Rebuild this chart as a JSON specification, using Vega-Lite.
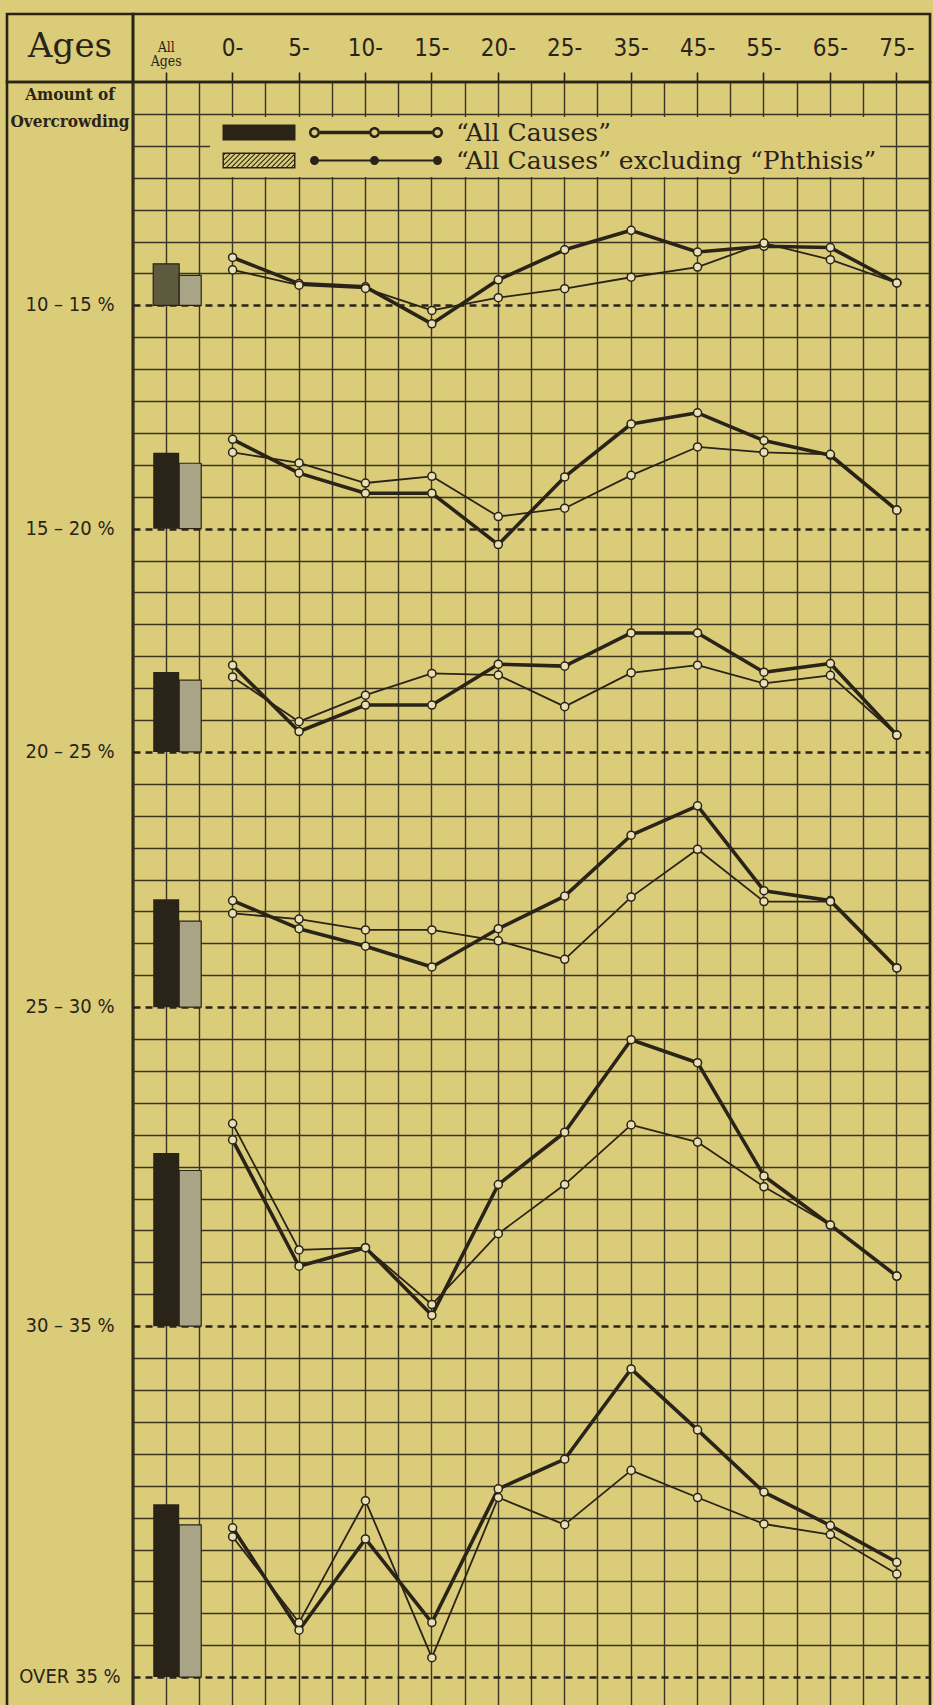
{
  "$schema": "https://vega.github.io/schema/vega-lite/v6.json",
  "background": "#dbcc7a",
  "padding": {"left": 5, "top": 12, "right": 5, "bottom": 0},
  "config": {
    "view": {"stroke": "#2a2418", "strokeWidth": 2.6},
    "concat": {"spacing": 0},
    "axis": {"gridColor": "#3b3422", "gridOpacity": 1, "gridWidth": 1.4}
  },
  "datasets": {
    "mortality": [
      {"band": "10 – 15 %", "age": "All Ages", "series": "“All Causes”", "value": 1.3},
      {"band": "10 – 15 %", "age": "0-", "series": "“All Causes”", "value": 1.5},
      {"band": "10 – 15 %", "age": "5-", "series": "“All Causes”", "value": 0.68},
      {"band": "10 – 15 %", "age": "10-", "series": "“All Causes”", "value": 0.58},
      {"band": "10 – 15 %", "age": "15-", "series": "“All Causes”", "value": -0.58},
      {"band": "10 – 15 %", "age": "20-", "series": "“All Causes”", "value": 0.8},
      {"band": "10 – 15 %", "age": "25-", "series": "“All Causes”", "value": 1.74},
      {"band": "10 – 15 %", "age": "35-", "series": "“All Causes”", "value": 2.35},
      {"band": "10 – 15 %", "age": "45-", "series": "“All Causes”", "value": 1.67},
      {"band": "10 – 15 %", "age": "55-", "series": "“All Causes”", "value": 1.85},
      {"band": "10 – 15 %", "age": "65-", "series": "“All Causes”", "value": 1.81},
      {"band": "10 – 15 %", "age": "75-", "series": "“All Causes”", "value": 0.7},
      {"band": "10 – 15 %", "age": "All Ages", "series": "“All Causes” excluding “Phthisis”", "value": 0.94},
      {"band": "10 – 15 %", "age": "0-", "series": "“All Causes” excluding “Phthisis”", "value": 1.11},
      {"band": "10 – 15 %", "age": "5-", "series": "“All Causes” excluding “Phthisis”", "value": 0.63},
      {"band": "10 – 15 %", "age": "10-", "series": "“All Causes” excluding “Phthisis”", "value": 0.53},
      {"band": "10 – 15 %", "age": "15-", "series": "“All Causes” excluding “Phthisis”", "value": -0.16},
      {"band": "10 – 15 %", "age": "20-", "series": "“All Causes” excluding “Phthisis”", "value": 0.24},
      {"band": "10 – 15 %", "age": "25-", "series": "“All Causes” excluding “Phthisis”", "value": 0.52},
      {"band": "10 – 15 %", "age": "35-", "series": "“All Causes” excluding “Phthisis”", "value": 0.88},
      {"band": "10 – 15 %", "age": "45-", "series": "“All Causes” excluding “Phthisis”", "value": 1.2},
      {"band": "10 – 15 %", "age": "55-", "series": "“All Causes” excluding “Phthisis”", "value": 1.95},
      {"band": "10 – 15 %", "age": "65-", "series": "“All Causes” excluding “Phthisis”", "value": 1.43},
      {"band": "10 – 15 %", "age": "75-", "series": "“All Causes” excluding “Phthisis”", "value": 0.7},

      {"band": "15 – 20 %", "age": "All Ages", "series": "“All Causes”", "value": 2.38},
      {"band": "15 – 20 %", "age": "0-", "series": "“All Causes”", "value": 2.8},
      {"band": "15 – 20 %", "age": "5-", "series": "“All Causes”", "value": 1.74},
      {"band": "15 – 20 %", "age": "10-", "series": "“All Causes”", "value": 1.11},
      {"band": "15 – 20 %", "age": "15-", "series": "“All Causes”", "value": 1.11},
      {"band": "15 – 20 %", "age": "20-", "series": "“All Causes”", "value": -0.5},
      {"band": "15 – 20 %", "age": "25-", "series": "“All Causes”", "value": 1.62},
      {"band": "15 – 20 %", "age": "35-", "series": "“All Causes”", "value": 3.28},
      {"band": "15 – 20 %", "age": "45-", "series": "“All Causes”", "value": 3.63},
      {"band": "15 – 20 %", "age": "55-", "series": "“All Causes”", "value": 2.76},
      {"band": "15 – 20 %", "age": "65-", "series": "“All Causes”", "value": 2.3},
      {"band": "15 – 20 %", "age": "75-", "series": "“All Causes”", "value": 0.58},
      {"band": "15 – 20 %", "age": "All Ages", "series": "“All Causes” excluding “Phthisis”", "value": 2.05},
      {"band": "15 – 20 %", "age": "0-", "series": "“All Causes” excluding “Phthisis”", "value": 2.39},
      {"band": "15 – 20 %", "age": "5-", "series": "“All Causes” excluding “Phthisis”", "value": 2.06},
      {"band": "15 – 20 %", "age": "10-", "series": "“All Causes” excluding “Phthisis”", "value": 1.43},
      {"band": "15 – 20 %", "age": "15-", "series": "“All Causes” excluding “Phthisis”", "value": 1.64},
      {"band": "15 – 20 %", "age": "20-", "series": "“All Causes” excluding “Phthisis”", "value": 0.38},
      {"band": "15 – 20 %", "age": "25-", "series": "“All Causes” excluding “Phthisis”", "value": 0.64},
      {"band": "15 – 20 %", "age": "35-", "series": "“All Causes” excluding “Phthisis”", "value": 1.67},
      {"band": "15 – 20 %", "age": "45-", "series": "“All Causes” excluding “Phthisis”", "value": 2.56},
      {"band": "15 – 20 %", "age": "55-", "series": "“All Causes” excluding “Phthisis”", "value": 2.39},
      {"band": "15 – 20 %", "age": "65-", "series": "“All Causes” excluding “Phthisis”", "value": 2.33},
      {"band": "15 – 20 %", "age": "75-", "series": "“All Causes” excluding “Phthisis”", "value": 0.58},

      {"band": "20 – 25 %", "age": "All Ages", "series": "“All Causes”", "value": 2.51},
      {"band": "20 – 25 %", "age": "0-", "series": "“All Causes”", "value": 2.72},
      {"band": "20 – 25 %", "age": "5-", "series": "“All Causes”", "value": 0.64},
      {"band": "20 – 25 %", "age": "10-", "series": "“All Causes”", "value": 1.47},
      {"band": "20 – 25 %", "age": "15-", "series": "“All Causes”", "value": 1.47},
      {"band": "20 – 25 %", "age": "20-", "series": "“All Causes”", "value": 2.75},
      {"band": "20 – 25 %", "age": "25-", "series": "“All Causes”", "value": 2.69},
      {"band": "20 – 25 %", "age": "35-", "series": "“All Causes”", "value": 3.73},
      {"band": "20 – 25 %", "age": "45-", "series": "“All Causes”", "value": 3.73},
      {"band": "20 – 25 %", "age": "55-", "series": "“All Causes”", "value": 2.5},
      {"band": "20 – 25 %", "age": "65-", "series": "“All Causes”", "value": 2.77},
      {"band": "20 – 25 %", "age": "75-", "series": "“All Causes”", "value": 0.53},
      {"band": "20 – 25 %", "age": "All Ages", "series": "“All Causes” excluding “Phthisis”", "value": 2.25},
      {"band": "20 – 25 %", "age": "0-", "series": "“All Causes” excluding “Phthisis”", "value": 2.35},
      {"band": "20 – 25 %", "age": "5-", "series": "“All Causes” excluding “Phthisis”", "value": 0.95},
      {"band": "20 – 25 %", "age": "10-", "series": "“All Causes” excluding “Phthisis”", "value": 1.78},
      {"band": "20 – 25 %", "age": "15-", "series": "“All Causes” excluding “Phthisis”", "value": 2.46},
      {"band": "20 – 25 %", "age": "20-", "series": "“All Causes” excluding “Phthisis”", "value": 2.41},
      {"band": "20 – 25 %", "age": "25-", "series": "“All Causes” excluding “Phthisis”", "value": 1.42},
      {"band": "20 – 25 %", "age": "35-", "series": "“All Causes” excluding “Phthisis”", "value": 2.48},
      {"band": "20 – 25 %", "age": "45-", "series": "“All Causes” excluding “Phthisis”", "value": 2.72},
      {"band": "20 – 25 %", "age": "55-", "series": "“All Causes” excluding “Phthisis”", "value": 2.15},
      {"band": "20 – 25 %", "age": "65-", "series": "“All Causes” excluding “Phthisis”", "value": 2.4},
      {"band": "20 – 25 %", "age": "75-", "series": "“All Causes” excluding “Phthisis”", "value": 0.53},

      {"band": "25 – 30 %", "age": "All Ages", "series": "“All Causes”", "value": 3.38},
      {"band": "25 – 30 %", "age": "0-", "series": "“All Causes”", "value": 3.34},
      {"band": "25 – 30 %", "age": "5-", "series": "“All Causes”", "value": 2.46},
      {"band": "25 – 30 %", "age": "10-", "series": "“All Causes”", "value": 1.91},
      {"band": "25 – 30 %", "age": "15-", "series": "“All Causes”", "value": 1.26},
      {"band": "25 – 30 %", "age": "20-", "series": "“All Causes”", "value": 2.46},
      {"band": "25 – 30 %", "age": "25-", "series": "“All Causes”", "value": 3.48},
      {"band": "25 – 30 %", "age": "35-", "series": "“All Causes”", "value": 5.39},
      {"band": "25 – 30 %", "age": "45-", "series": "“All Causes”", "value": 6.31},
      {"band": "25 – 30 %", "age": "55-", "series": "“All Causes”", "value": 3.65},
      {"band": "25 – 30 %", "age": "65-", "series": "“All Causes”", "value": 3.34},
      {"band": "25 – 30 %", "age": "75-", "series": "“All Causes”", "value": 1.23},
      {"band": "25 – 30 %", "age": "All Ages", "series": "“All Causes” excluding “Phthisis”", "value": 2.7},
      {"band": "25 – 30 %", "age": "0-", "series": "“All Causes” excluding “Phthisis”", "value": 2.94},
      {"band": "25 – 30 %", "age": "5-", "series": "“All Causes” excluding “Phthisis”", "value": 2.76},
      {"band": "25 – 30 %", "age": "10-", "series": "“All Causes” excluding “Phthisis”", "value": 2.42},
      {"band": "25 – 30 %", "age": "15-", "series": "“All Causes” excluding “Phthisis”", "value": 2.42},
      {"band": "25 – 30 %", "age": "20-", "series": "“All Causes” excluding “Phthisis”", "value": 2.08},
      {"band": "25 – 30 %", "age": "25-", "series": "“All Causes” excluding “Phthisis”", "value": 1.5},
      {"band": "25 – 30 %", "age": "35-", "series": "“All Causes” excluding “Phthisis”", "value": 3.45},
      {"band": "25 – 30 %", "age": "45-", "series": "“All Causes” excluding “Phthisis”", "value": 4.95},
      {"band": "25 – 30 %", "age": "55-", "series": "“All Causes” excluding “Phthisis”", "value": 3.31},
      {"band": "25 – 30 %", "age": "65-", "series": "“All Causes” excluding “Phthisis”", "value": 3.31},
      {"band": "25 – 30 %", "age": "75-", "series": "“All Causes” excluding “Phthisis”", "value": 1.23},

      {"band": "30 – 35 %", "age": "All Ages", "series": "“All Causes”", "value": 5.43},
      {"band": "30 – 35 %", "age": "0-", "series": "“All Causes”", "value": 5.84},
      {"band": "30 – 35 %", "age": "5-", "series": "“All Causes”", "value": 1.88},
      {"band": "30 – 35 %", "age": "10-", "series": "“All Causes”", "value": 2.46},
      {"band": "30 – 35 %", "age": "15-", "series": "“All Causes”", "value": 0.34},
      {"band": "30 – 35 %", "age": "20-", "series": "“All Causes”", "value": 4.44},
      {"band": "30 – 35 %", "age": "25-", "series": "“All Causes”", "value": 6.08},
      {"band": "30 – 35 %", "age": "35-", "series": "“All Causes”", "value": 8.98},
      {"band": "30 – 35 %", "age": "45-", "series": "“All Causes”", "value": 8.26},
      {"band": "30 – 35 %", "age": "55-", "series": "“All Causes”", "value": 4.71},
      {"band": "30 – 35 %", "age": "65-", "series": "“All Causes”", "value": 3.17},
      {"band": "30 – 35 %", "age": "75-", "series": "“All Causes”", "value": 1.57},
      {"band": "30 – 35 %", "age": "All Ages", "series": "“All Causes” excluding “Phthisis”", "value": 4.88},
      {"band": "30 – 35 %", "age": "0-", "series": "“All Causes” excluding “Phthisis”", "value": 6.35},
      {"band": "30 – 35 %", "age": "5-", "series": "“All Causes” excluding “Phthisis”", "value": 2.39},
      {"band": "30 – 35 %", "age": "10-", "series": "“All Causes” excluding “Phthisis”", "value": 2.46},
      {"band": "30 – 35 %", "age": "15-", "series": "“All Causes” excluding “Phthisis”", "value": 0.68},
      {"band": "30 – 35 %", "age": "20-", "series": "“All Causes” excluding “Phthisis”", "value": 2.9},
      {"band": "30 – 35 %", "age": "25-", "series": "“All Causes” excluding “Phthisis”", "value": 4.44},
      {"band": "30 – 35 %", "age": "35-", "series": "“All Causes” excluding “Phthisis”", "value": 6.31},
      {"band": "30 – 35 %", "age": "45-", "series": "“All Causes” excluding “Phthisis”", "value": 5.77},
      {"band": "30 – 35 %", "age": "55-", "series": "“All Causes” excluding “Phthisis”", "value": 4.37},
      {"band": "30 – 35 %", "age": "65-", "series": "“All Causes” excluding “Phthisis”", "value": 3.17},
      {"band": "30 – 35 %", "age": "75-", "series": "“All Causes” excluding “Phthisis”", "value": 1.57},

      {"band": "OVER 35 %", "age": "All Ages", "series": "“All Causes”", "value": 5.42},
      {"band": "OVER 35 %", "age": "0-", "series": "“All Causes”", "value": 4.68},
      {"band": "OVER 35 %", "age": "5-", "series": "“All Causes”", "value": 1.47},
      {"band": "OVER 35 %", "age": "10-", "series": "“All Causes”", "value": 4.33},
      {"band": "OVER 35 %", "age": "15-", "series": "“All Causes”", "value": 1.71},
      {"band": "OVER 35 %", "age": "20-", "series": "“All Causes”", "value": 5.9},
      {"band": "OVER 35 %", "age": "25-", "series": "“All Causes”", "value": 6.83},
      {"band": "OVER 35 %", "age": "35-", "series": "“All Causes”", "value": 9.66},
      {"band": "OVER 35 %", "age": "45-", "series": "“All Causes”", "value": 7.75},
      {"band": "OVER 35 %", "age": "55-", "series": "“All Causes”", "value": 5.8},
      {"band": "OVER 35 %", "age": "65-", "series": "“All Causes”", "value": 4.75},
      {"band": "OVER 35 %", "age": "75-", "series": "“All Causes”", "value": 3.6},
      {"band": "OVER 35 %", "age": "All Ages", "series": "“All Causes” excluding “Phthisis”", "value": 4.77},
      {"band": "OVER 35 %", "age": "0-", "series": "“All Causes” excluding “Phthisis”", "value": 4.4},
      {"band": "OVER 35 %", "age": "5-", "series": "“All Causes” excluding “Phthisis”", "value": 1.71},
      {"band": "OVER 35 %", "age": "10-", "series": "“All Causes” excluding “Phthisis”", "value": 5.53},
      {"band": "OVER 35 %", "age": "15-", "series": "“All Causes” excluding “Phthisis”", "value": 0.61},
      {"band": "OVER 35 %", "age": "20-", "series": "“All Causes” excluding “Phthisis”", "value": 5.63},
      {"band": "OVER 35 %", "age": "25-", "series": "“All Causes” excluding “Phthisis”", "value": 4.78},
      {"band": "OVER 35 %", "age": "35-", "series": "“All Causes” excluding “Phthisis”", "value": 6.48},
      {"band": "OVER 35 %", "age": "45-", "series": "“All Causes” excluding “Phthisis”", "value": 5.63},
      {"band": "OVER 35 %", "age": "55-", "series": "“All Causes” excluding “Phthisis”", "value": 4.8},
      {"band": "OVER 35 %", "age": "65-", "series": "“All Causes” excluding “Phthisis”", "value": 4.47},
      {"band": "OVER 35 %", "age": "75-", "series": "“All Causes” excluding “Phthisis”", "value": 3.23}
    ]
  },
  "columns": 2,
  "spacing": 0,
  "bounds": "flush",
  "concat": [
    {
      "width": 126, "height": 68,
      "data": {"values": [{"heading": "Ages"}]},
      "mark": {"type": "text", "font": "DejaVu Serif", "fontSize": 34, "baseline": "alphabetic", "align": "center", "dy": 9, "color": "#2a2418"},
      "encoding": {
        "x": {"field": "heading", "type": "nominal", "axis": null},
        "text": {"field": "heading"}
      }
    },
    {
      "width": 797, "height": 68,
      "data": {"name": "mortality"},
      "transform": [{"filter": "datum.band === '10 – 15 %' && datum.series === '“All Causes”'"}],
      "encoding": {
        "x": {"field": "age", "type": "ordinal", "sort": ["All Ages", "0-", "5-", "10-", "15-", "20-", "25-", "35-", "45-", "55-", "65-", "75-"],
              "scale": {"type": "band", "paddingInner": 0, "paddingOuter": 0},
              "axis": {"orient": "bottom", "title": null, "labels": false, "domain": false, "grid": false, "ticks": true, "tickSize": -10, "tickColor": "#2a2418", "tickWidth": 1.6}}
      },
      "layer": [
        {
          "transform": [{"filter": "datum.age !== 'All Ages'"}],
          "mark": {"type": "text", "font": "DejaVu Sans Condensed", "fontSize": 24, "baseline": "alphabetic", "align": "center", "dy": 8, "color": "#2a2418"},
          "encoding": {"text": {"field": "age"}}
        },
        {
          "transform": [{"filter": "datum.age === 'All Ages'"}],
          "mark": {"type": "text", "font": "DejaVu Serif Condensed", "fontSize": 14, "lineBreak": " ", "lineHeight": 14, "baseline": "middle", "align": "center", "dy": 0, "color": "#2a2418"},
          "encoding": {"text": {"field": "age"}}
        }
      ]
    },
    {
      "width": 126, "height": 1635,
      "title": {"text": ["Amount of", "Overcrowding"], "anchor": "middle", "orient": "top", "offset": -49, "font": "DejaVu Serif Condensed", "fontWeight": "bold", "fontSize": 17, "lineHeight": 27, "color": "#2a2418"},
      "data": {"name": "mortality"},
      "transform": [{"filter": "datum.age === 'All Ages' && datum.series === '“All Causes”'"}],
      "layer": [
        {"transform": [{"filter": "datum.band === '10 – 15 %'"}], "mark": {"type": "text", "font": "DejaVu Sans Condensed", "fontSize": 20, "align": "center", "baseline": "middle", "color": "#2a2418"},
         "encoding": {"y": {"datum": 0, "type": "quantitative", "scale": {"domain": [-44.25, 7], "nice": false, "zero": false}, "axis": null}, "text": {"field": "band"}}},
        {"transform": [{"filter": "datum.band === '15 – 20 %'"}], "mark": {"type": "text", "font": "DejaVu Sans Condensed", "fontSize": 20, "align": "center", "baseline": "middle", "color": "#2a2418"},
         "encoding": {"y": {"datum": 0, "type": "quantitative", "scale": {"domain": [-37.25, 14], "nice": false, "zero": false}, "axis": null}, "text": {"field": "band"}}},
        {"transform": [{"filter": "datum.band === '20 – 25 %'"}], "mark": {"type": "text", "font": "DejaVu Sans Condensed", "fontSize": 20, "align": "center", "baseline": "middle", "color": "#2a2418"},
         "encoding": {"y": {"datum": 0, "type": "quantitative", "scale": {"domain": [-30.25, 21], "nice": false, "zero": false}, "axis": null}, "text": {"field": "band"}}},
        {"transform": [{"filter": "datum.band === '25 – 30 %'"}], "mark": {"type": "text", "font": "DejaVu Sans Condensed", "fontSize": 20, "align": "center", "baseline": "middle", "color": "#2a2418"},
         "encoding": {"y": {"datum": 0, "type": "quantitative", "scale": {"domain": [-22.25, 29], "nice": false, "zero": false}, "axis": null}, "text": {"field": "band"}}},
        {"transform": [{"filter": "datum.band === '30 – 35 %'"}], "mark": {"type": "text", "font": "DejaVu Sans Condensed", "fontSize": 20, "align": "center", "baseline": "middle", "color": "#2a2418"},
         "encoding": {"y": {"datum": 0, "type": "quantitative", "scale": {"domain": [-12.25, 39], "nice": false, "zero": false}, "axis": null}, "text": {"field": "band"}}},
        {"transform": [{"filter": "datum.band === 'OVER 35 %'"}], "mark": {"type": "text", "font": "DejaVu Sans Condensed", "fontSize": 20, "align": "center", "baseline": "middle", "color": "#2a2418"},
         "encoding": {"y": {"datum": 0, "type": "quantitative", "scale": {"domain": [-1.25, 50], "nice": false, "zero": false}, "axis": null}, "text": {"field": "band"}}}
      ],
      "resolve": {"scale": {"y": "independent"}}
    },
    {
      "width": 797, "height": 1635,
      "data": {"name": "mortality"},
      "resolve": {"scale": {"y": "independent"}, "axis": {"x": "independent"}},
      "layer": [
        {
          "transform": [{"filter": "datum.band === '10 – 15 %'"}],
          "encoding": {
            "x": {"field": "age", "type": "ordinal", "sort": ["All Ages", "0-", "5-", "10-", "15-", "20-", "25-", "35-", "45-", "55-", "65-", "75-"], "scale": {"type": "band", "paddingInner": 0, "paddingOuter": 0},
                  "axis": {"grid": true, "bandPosition": 0, "labels": false, "ticks": false, "domain": false, "title": null}},
            "y": {"field": "value", "type": "quantitative", "scale": {"domain": [-44.25, 7], "nice": false, "zero": false},
                  "axis": {"orient": "left", "values": [0], "grid": true, "gridDash": [7, 5], "gridWidth": 2.4, "gridColor": "#2a2418", "labels": false, "ticks": false, "domain": false, "title": null}}
          },
          "layer": [
            {"transform": [{"filter": "datum.age === 'All Ages' && datum.series === '“All Causes”'"}], "mark": {"type": "bar", "width": 26, "fill": "#5e5a40", "stroke": "#2a2418", "strokeWidth": 1.2}, "encoding": {"y2": {"datum": 0}}},
            {"transform": [{"filter": "datum.age === 'All Ages' && datum.series !== '“All Causes”'"}], "mark": {"type": "bar", "width": 22, "xOffset": 24, "fill": "#aaa486", "stroke": "#2a2418", "strokeWidth": 1.2}, "encoding": {"y2": {"datum": 0}}},
            {"transform": [{"filter": "datum.age !== 'All Ages'"}], "mark": {"type": "line", "color": "#2a2418", "strokeJoin": "round"},
             "encoding": {"detail": {"field": "series"}, "strokeWidth": {"condition": {"test": "datum.series === '“All Causes”'", "value": 3.6}, "value": 1.8}}},
            {"transform": [{"filter": "datum.age !== 'All Ages'"}], "mark": {"type": "point", "shape": "circle", "filled": true, "fill": "#e8dfb4", "stroke": "#2a2418", "strokeWidth": 1.5, "size": 65, "opacity": 1}},
            {"transform": [{"filter": "datum.age === 'All Ages'"}],
             "mark": {"type": "point", "filled": true, "fill": "#2a2418", "stroke": "#2a2418", "strokeWidth": 0.9, "size": 0, "opacity": 1},
             "encoding": {"shape": {"field": "series", "type": "nominal",
               "scale": {"domain": ["“All Causes”", "“All Causes” excluding “Phthisis”"],
                         "range": ["M-11,-0.8H-3.7V0.8H-11Z M-1.25,-0.17H3.65V0.17H-1.25Z M4.75,-0.17H9.95V0.17H4.75Z M-1.25,0A0.55,0.55,0,1,1,-2.35,0A0.55,0.55,0,1,1,-1.25,0Z M-1.5,0A0.3,0.3,0,1,0,-2.1,0A0.3,0.3,0,1,0,-1.5,0Z M4.75,0A0.55,0.55,0,1,1,3.65,0A0.55,0.55,0,1,1,4.75,0Z M4.5,0A0.3,0.3,0,1,0,3.9,0A0.3,0.3,0,1,0,4.5,0Z M11.05,0A0.55,0.55,0,1,1,9.95,0A0.55,0.55,0,1,1,11.05,0Z M10.8,0A0.3,0.3,0,1,0,10.2,0A0.3,0.3,0,1,0,10.8,0Z",
                                   "M-11,-0.8H-3.7V0.8H-11Z M-10.85,-0.65V0.65H-3.85V-0.65Z M-11,-0.5L-10.7,-0.8L-10.55,-0.8L-11,-0.35Z M-11,0L-10.2,-0.8L-10.05,-0.8L-11,0.15Z M-11,0.5L-9.7,-0.8L-9.55,-0.8L-11,0.65Z M-10.8,0.8L-9.2,-0.8L-9.05,-0.8L-10.65,0.8Z M-10.3,0.8L-8.7,-0.8L-8.55,-0.8L-10.15,0.8Z M-9.8,0.8L-8.2,-0.8L-8.05,-0.8L-9.65,0.8Z M-9.3,0.8L-7.7,-0.8L-7.55,-0.8L-9.15,0.8Z M-8.8,0.8L-7.2,-0.8L-7.05,-0.8L-8.65,0.8Z M-8.3,0.8L-6.7,-0.8L-6.55,-0.8L-8.15,0.8Z M-7.8,0.8L-6.2,-0.8L-6.05,-0.8L-7.65,0.8Z M-7.3,0.8L-5.7,-0.8L-5.55,-0.8L-7.15,0.8Z M-6.8,0.8L-5.2,-0.8L-5.05,-0.8L-6.65,0.8Z M-6.3,0.8L-4.7,-0.8L-4.55,-0.8L-6.15,0.8Z M-5.8,0.8L-4.2,-0.8L-4.05,-0.8L-5.65,0.8Z M-5.3,0.8L-3.7,-0.8L-3.7,-0.65L-5.15,0.8Z M-4.8,0.8L-3.7,-0.3L-3.7,-0.15L-4.65,0.8Z M-4.3,0.8L-3.7,0.2L-3.7,0.35L-4.15,0.8Z M-1.8,-0.1H10.5V0.1H-1.8Z M-1.35,0A0.45,0.45,0,1,1,-2.25,0A0.45,0.45,0,1,1,-1.35,0Z M4.65,0A0.45,0.45,0,1,1,3.75,0A0.45,0.45,0,1,1,4.65,0Z M10.95,0A0.45,0.45,0,1,1,10.05,0A0.45,0.45,0,1,1,10.95,0Z"]},
               "legend": {
                 "orient": "none", "legendX": 203, "legendY": 103, "title": null, "fillColor": "#dbcc7a", "padding": 3,
                 "symbolSize": 400, "symbolOffset": 107, "labelOffset": 111, "rowPadding": 2,
                 "symbolStrokeWidth": 0.9, "symbolFillColor": "#2a2418", "symbolStrokeColor": "#2a2418", "symbolOpacity": 1,
                 "labelFont": "DejaVu Serif", "labelFontSize": 25, "labelColor": "#2a2418", "labelLimit": 0
               }}}}
          ]
        },
        {
          "transform": [{"filter": "datum.band === '15 – 20 %'"}],
          "encoding": {
            "x": {"field": "age", "type": "ordinal", "sort": ["All Ages", "0-", "5-", "10-", "15-", "20-", "25-", "35-", "45-", "55-", "65-", "75-"], "scale": {"type": "band", "paddingInner": 0, "paddingOuter": 0},
                  "axis": {"grid": true, "bandPosition": 0.5, "labels": false, "ticks": false, "domain": false, "title": null}},
            "y": {"field": "value", "type": "quantitative", "scale": {"domain": [-37.25, 14], "nice": false, "zero": false},
                  "axis": {"orient": "left", "values": [0], "grid": true, "gridDash": [7, 5], "gridWidth": 2.4, "gridColor": "#2a2418", "labels": false, "ticks": false, "domain": false, "title": null}}
          },
          "layer": [
            {"transform": [{"filter": "datum.age === 'All Ages' && datum.series === '“All Causes”'"}], "mark": {"type": "bar", "width": 26, "fill": "#2a2418"}, "encoding": {"y2": {"datum": 0}}},
            {"transform": [{"filter": "datum.age === 'All Ages' && datum.series !== '“All Causes”'"}], "mark": {"type": "bar", "width": 22, "xOffset": 24, "fill": "#aaa486", "stroke": "#2a2418", "strokeWidth": 1.2}, "encoding": {"y2": {"datum": 0}}},
            {"transform": [{"filter": "datum.age !== 'All Ages'"}], "mark": {"type": "line", "color": "#2a2418", "strokeJoin": "round"},
             "encoding": {"detail": {"field": "series"}, "strokeWidth": {"condition": {"test": "datum.series === '“All Causes”'", "value": 3.6}, "value": 1.8}}},
            {"transform": [{"filter": "datum.age !== 'All Ages'"}], "mark": {"type": "point", "shape": "circle", "filled": true, "fill": "#e8dfb4", "stroke": "#2a2418", "strokeWidth": 1.5, "size": 65, "opacity": 1}}
          ]
        },
        {
          "transform": [{"filter": "datum.band === '20 – 25 %'"}],
          "encoding": {
            "x": {"field": "age", "type": "ordinal", "sort": ["All Ages", "0-", "5-", "10-", "15-", "20-", "25-", "35-", "45-", "55-", "65-", "75-"], "scale": {"type": "band", "paddingInner": 0, "paddingOuter": 0}, "axis": null},
            "y": {"field": "value", "type": "quantitative", "scale": {"domain": [-30.25, 21], "nice": false, "zero": false},
                  "axis": {"orient": "left", "values": [0], "grid": true, "gridDash": [7, 5], "gridWidth": 2.4, "gridColor": "#2a2418", "labels": false, "ticks": false, "domain": false, "title": null}}
          },
          "layer": [
            {"transform": [{"filter": "datum.age === 'All Ages' && datum.series === '“All Causes”'"}], "mark": {"type": "bar", "width": 26, "fill": "#2a2418"}, "encoding": {"y2": {"datum": 0}}},
            {"transform": [{"filter": "datum.age === 'All Ages' && datum.series !== '“All Causes”'"}], "mark": {"type": "bar", "width": 22, "xOffset": 24, "fill": "#aaa486", "stroke": "#2a2418", "strokeWidth": 1.2}, "encoding": {"y2": {"datum": 0}}},
            {"transform": [{"filter": "datum.age !== 'All Ages'"}], "mark": {"type": "line", "color": "#2a2418", "strokeJoin": "round"},
             "encoding": {"detail": {"field": "series"}, "strokeWidth": {"condition": {"test": "datum.series === '“All Causes”'", "value": 3.6}, "value": 1.8}}},
            {"transform": [{"filter": "datum.age !== 'All Ages'"}], "mark": {"type": "point", "shape": "circle", "filled": true, "fill": "#e8dfb4", "stroke": "#2a2418", "strokeWidth": 1.5, "size": 65, "opacity": 1}}
          ]
        },
        {
          "transform": [{"filter": "datum.band === '25 – 30 %'"}],
          "encoding": {
            "x": {"field": "age", "type": "ordinal", "sort": ["All Ages", "0-", "5-", "10-", "15-", "20-", "25-", "35-", "45-", "55-", "65-", "75-"], "scale": {"type": "band", "paddingInner": 0, "paddingOuter": 0}, "axis": null},
            "y": {"field": "value", "type": "quantitative", "scale": {"domain": [-22.25, 29], "nice": false, "zero": false},
                  "axis": {"orient": "left", "values": [0], "grid": true, "gridDash": [7, 5], "gridWidth": 2.4, "gridColor": "#2a2418", "labels": false, "ticks": false, "domain": false, "title": null}}
          },
          "layer": [
            {"transform": [{"filter": "datum.age === 'All Ages' && datum.series === '“All Causes”'"}], "mark": {"type": "bar", "width": 26, "fill": "#2a2418"}, "encoding": {"y2": {"datum": 0}}},
            {"transform": [{"filter": "datum.age === 'All Ages' && datum.series !== '“All Causes”'"}], "mark": {"type": "bar", "width": 22, "xOffset": 24, "fill": "#aaa486", "stroke": "#2a2418", "strokeWidth": 1.2}, "encoding": {"y2": {"datum": 0}}},
            {"transform": [{"filter": "datum.age !== 'All Ages'"}], "mark": {"type": "line", "color": "#2a2418", "strokeJoin": "round"},
             "encoding": {"detail": {"field": "series"}, "strokeWidth": {"condition": {"test": "datum.series === '“All Causes”'", "value": 3.6}, "value": 1.8}}},
            {"transform": [{"filter": "datum.age !== 'All Ages'"}], "mark": {"type": "point", "shape": "circle", "filled": true, "fill": "#e8dfb4", "stroke": "#2a2418", "strokeWidth": 1.5, "size": 65, "opacity": 1}}
          ]
        },
        {
          "transform": [{"filter": "datum.band === '30 – 35 %'"}],
          "encoding": {
            "x": {"field": "age", "type": "ordinal", "sort": ["All Ages", "0-", "5-", "10-", "15-", "20-", "25-", "35-", "45-", "55-", "65-", "75-"], "scale": {"type": "band", "paddingInner": 0, "paddingOuter": 0}, "axis": null},
            "y": {"field": "value", "type": "quantitative", "scale": {"domain": [-12.25, 39], "nice": false, "zero": false},
                  "axis": {"orient": "left", "values": [0], "grid": true, "gridDash": [7, 5], "gridWidth": 2.4, "gridColor": "#2a2418", "labels": false, "ticks": false, "domain": false, "title": null}}
          },
          "layer": [
            {"transform": [{"filter": "datum.age === 'All Ages' && datum.series === '“All Causes”'"}], "mark": {"type": "bar", "width": 26, "fill": "#2a2418"}, "encoding": {"y2": {"datum": 0}}},
            {"transform": [{"filter": "datum.age === 'All Ages' && datum.series !== '“All Causes”'"}], "mark": {"type": "bar", "width": 22, "xOffset": 24, "fill": "#aaa486", "stroke": "#2a2418", "strokeWidth": 1.2}, "encoding": {"y2": {"datum": 0}}},
            {"transform": [{"filter": "datum.age !== 'All Ages'"}], "mark": {"type": "line", "color": "#2a2418", "strokeJoin": "round"},
             "encoding": {"detail": {"field": "series"}, "strokeWidth": {"condition": {"test": "datum.series === '“All Causes”'", "value": 3.6}, "value": 1.8}}},
            {"transform": [{"filter": "datum.age !== 'All Ages'"}], "mark": {"type": "point", "shape": "circle", "filled": true, "fill": "#e8dfb4", "stroke": "#2a2418", "strokeWidth": 1.5, "size": 65, "opacity": 1}}
          ]
        },
        {
          "transform": [{"filter": "datum.band === 'OVER 35 %'"}],
          "encoding": {
            "x": {"field": "age", "type": "ordinal", "sort": ["All Ages", "0-", "5-", "10-", "15-", "20-", "25-", "35-", "45-", "55-", "65-", "75-"], "scale": {"type": "band", "paddingInner": 0, "paddingOuter": 0}, "axis": null},
            "y": {"field": "value", "type": "quantitative", "scale": {"domain": [-1.25, 50], "nice": false, "zero": false},
                  "axis": {"orient": "left", "values": [0, 1, 2, 3, 4, 5, 6, 7, 8, 9, 10, 12, 13, 14, 15, 16, 17, 18, 19, 20, 22, 23, 24, 25, 26, 27, 28, 30, 31, 32, 33, 34, 35, 37, 38, 39, 40, 41, 42, 44, 45, 46, 47, 48, 49],
                           "grid": true,
                           "gridDash": {"condition": {"test": "datum.value === 0", "value": [7, 5]}, "value": []},
                           "gridWidth": {"condition": {"test": "datum.value === 0", "value": 2.4}, "value": 1.4},
                           "gridColor": {"condition": {"test": "datum.value === 0", "value": "#2a2418"}, "value": "#3b3422"},
                           "labels": false, "ticks": false, "domain": false, "title": null}}
          },
          "layer": [
            {"transform": [{"filter": "datum.age === 'All Ages' && datum.series === '“All Causes”'"}], "mark": {"type": "bar", "width": 26, "fill": "#2a2418"}, "encoding": {"y2": {"datum": 0}}},
            {"transform": [{"filter": "datum.age === 'All Ages' && datum.series !== '“All Causes”'"}], "mark": {"type": "bar", "width": 22, "xOffset": 24, "fill": "#aaa486", "stroke": "#2a2418", "strokeWidth": 1.2}, "encoding": {"y2": {"datum": 0}}},
            {"transform": [{"filter": "datum.age !== 'All Ages'"}], "mark": {"type": "line", "color": "#2a2418", "strokeJoin": "round"},
             "encoding": {"detail": {"field": "series"}, "strokeWidth": {"condition": {"test": "datum.series === '“All Causes”'", "value": 3.6}, "value": 1.8}}},
            {"transform": [{"filter": "datum.age !== 'All Ages'"}], "mark": {"type": "point", "shape": "circle", "filled": true, "fill": "#e8dfb4", "stroke": "#2a2418", "strokeWidth": 1.5, "size": 65, "opacity": 1}}
          ]
        }
      ]
    }
  ]
}
